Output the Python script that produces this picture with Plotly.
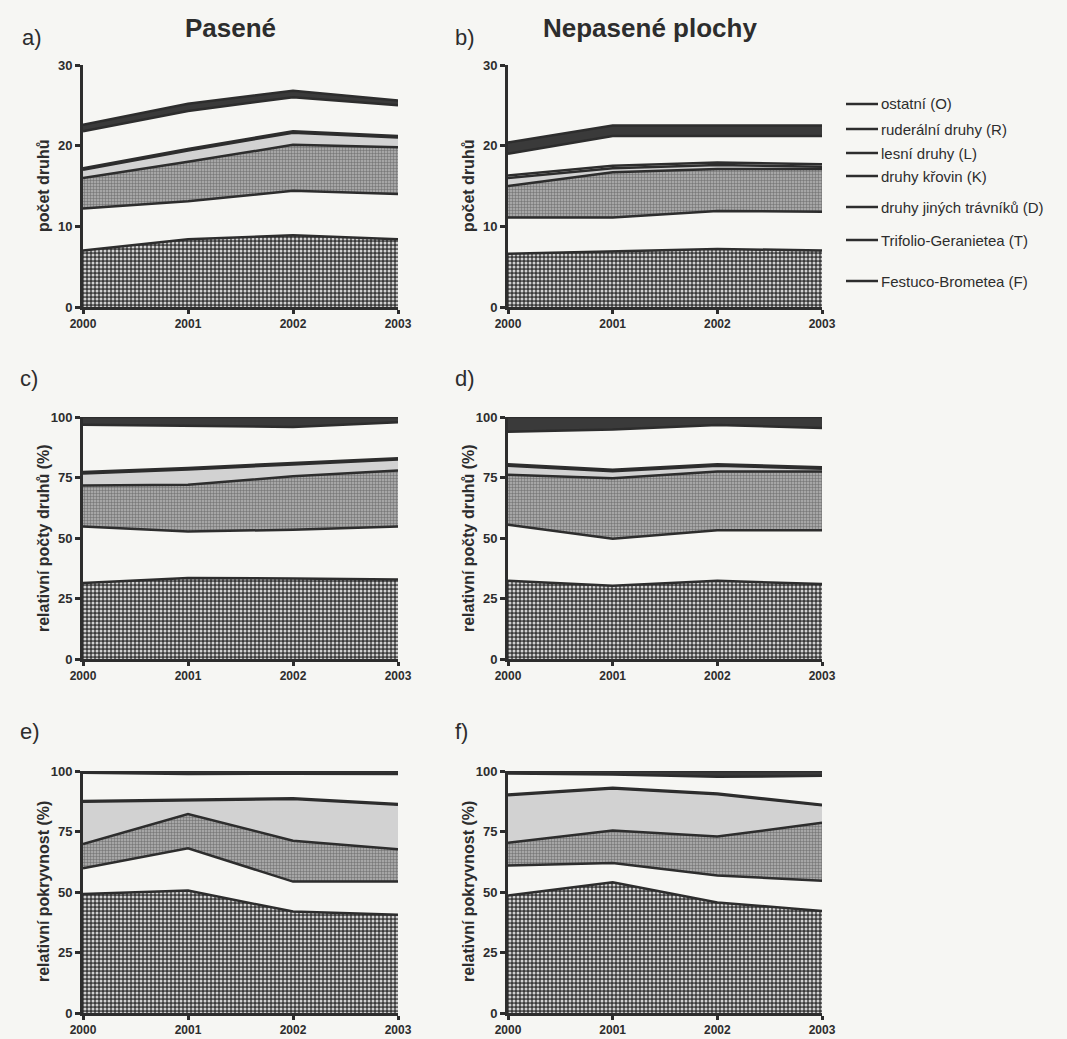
import plotly.graph_objects as go

years = [2000, 2001, 2002, 2003]

series_names = ["Festuco-Brometea (F)", "Trifolio-Geranietea (T)", "druhy jiných trávníků (D)",
                "druhy křovin (K)", "lesní druhy (L)", "ruderální druhy (R)", "ostatní (O)"]

# layer values (stacked, bottom F -> top O)
# a) grazed, species counts
a_F = [7.0, 8.4, 8.9, 8.4]
a_T = [5.2, 4.7, 5.5, 5.6]
a_D = [3.8, 4.9, 5.7, 5.8]
a_K = [1.0, 1.4, 1.5, 1.2]
a_L = [0.2, 0.2, 0.2, 0.2]
a_R = [4.6, 4.7, 4.2, 3.8]
a_O = [0.8, 0.9, 0.8, 0.6]
# b) ungrazed, species counts
b_F = [6.6, 6.9, 7.2, 7.0]
b_T = [4.5, 4.2, 4.7, 4.8]
b_D = [3.9, 5.6, 5.2, 5.3]
b_K = [1.0, 0.5, 0.5, 0.3]
b_L = [0.3, 0.3, 0.3, 0.3]
b_R = [2.7, 3.7, 3.3, 3.5]
b_O = [1.4, 1.3, 1.3, 1.3]
# c) grazed, relative species counts (%)
c_F = [31.4, 33.5, 33.3, 32.9]
c_T = [23.4, 19.2, 20.1, 21.9]
c_D = [16.9, 19.3, 22.1, 23.1]
c_K = [5.0, 6.3, 4.9, 4.5]
c_L = [0.6, 0.6, 0.6, 0.6]
c_R = [19.5, 17.5, 14.9, 14.8]
c_O = [3.2, 3.6, 4.1, 2.2]
# d) ungrazed, relative species counts (%)
d_F = [32.3, 30.3, 32.3, 31.0]
d_T = [23.2, 19.4, 20.9, 22.2]
d_D = [20.6, 25.0, 24.3, 24.3]
d_K = [3.8, 2.9, 2.4, 1.1]
d_L = [0.6, 0.6, 0.6, 0.6]
d_R = [13.4, 16.6, 16.2, 16.3]
d_O = [6.1, 5.2, 3.3, 4.5]
# e) grazed, relative cover (%)
e_F = [49.2, 50.6, 41.9, 40.6]
e_T = [10.6, 17.5, 12.4, 13.7]
e_D = [10.0, 14.1, 16.9, 13.4]
e_K = [17.5, 5.5, 17.2, 18.4]
e_L = [0.3, 0.3, 0.3, 0.3]
e_R = [11.7, 10.8, 10.2, 12.4]
e_O = [0.7, 1.2, 1.1, 1.2]
# f) ungrazed, relative cover (%)
f_F = [48.5, 54.0, 45.7, 42.2]
f_T = [12.4, 8.0, 11.1, 12.5]
f_D = [9.4, 13.4, 16.1, 23.9]
f_K = [19.7, 17.4, 17.5, 7.2]
f_L = [0.3, 0.3, 0.3, 0.3]
f_R = [8.7, 5.5, 6.9, 11.9]
f_O = [1.0, 1.4, 2.4, 2.0]

ylabels = ["počet druhů", "relativní počty druhů (%)", "relativní pokryvnost (%)"]
col_titles = ["Pasené", "Nepasené plochy"]
panel_letters = ["a)", "b)", "c)", "d)", "e)", "f)"]
legend_labels = ["ostatní (O)", "ruderální druhy (R)", "lesní druhy (L)", "druhy křovin (K)",
                 "druhy jiných trávníků (D)", "Trifolio-Geranietea (T)", "Festuco-Brometea (F)"]

panel_data = [
    [a_F, a_T, a_D, a_K, a_L, a_R, a_O],
    [b_F, b_T, b_D, b_K, b_L, b_R, b_O],
    [c_F, c_T, c_D, c_K, c_L, c_R, c_O],
    [d_F, d_T, d_D, d_K, d_L, d_R, d_O],
    [e_F, e_T, e_D, e_K, e_L, e_R, e_O],
    [f_F, f_T, f_D, f_K, f_L, f_R, f_O],
]

W, H = 1067, 1039
BG = "#f6f6f3"
INK = "#2d2d2d"
FONT = "Liberation Sans, Arial, sans-serif"

def px(x):
    return x / W

def py(y):
    return 1 - y / H

col_x = [(83, 398), (508, 822)]
row_y = [(65, 307), (417, 659), (771, 1013)]
letter_pos = [(20, 38), (453, 38), (18, 378), (453, 378), (18, 731), (453, 731)]
yranges = [[0, 30], [0, 100], [0, 100]]
yticks = [[0, 10, 20, 30], [0, 25, 50, 75, 100], [0, 25, 50, 75, 100]]

layer_styles = [
    dict(fill="#4a4a4a", pattern=dict(shape=".", size=4, solidity=0.45, bgcolor="#3a3a3a", fgcolor="#d0d0d0", fillmode="replace")),
    dict(fill=BG, pattern=None),
    dict(fill="#9a9a9a", pattern=dict(shape="+", size=3, solidity=0.3, bgcolor="#a6a6a6", fgcolor="#6a6a6a", fillmode="replace")),
    dict(fill="#d2d2d2", pattern=None),
    dict(fill=BG, pattern=None),
    dict(fill=BG, pattern=None),
    dict(fill="#3a3a3a", pattern=None),
]

fig = go.Figure()
annotations = []
shapes = []
layout_axes = {}

for i, data in enumerate(panel_data):
    row, col = divmod(i, 2)
    ax = "" if i == 0 else str(i + 1)
    xa, ya = "x" + ax, "y" + ax
    for k, vals in enumerate(data):
        st = layer_styles[k]
        kw = dict(x=years, y=vals, mode="lines", stackgroup="g%d" % i,
                  line=dict(color=INK, width=2.5, shape="linear"),
                  fillcolor=st["fill"], xaxis=xa, yaxis=ya,
                  name=series_names[k], showlegend=False, hoverinfo="skip")
        if st["pattern"]:
            kw["fillpattern"] = st["pattern"]
        fig.add_trace(go.Scatter(**kw))
    x0, x1 = col_x[col]
    y0, y1 = row_y[row]
    layout_axes["xaxis" + ax] = dict(
        domain=[px(x0), px(x1)], range=[2000, 2003], anchor=ya, automargin=False,
        tickvals=years, ticktext=[str(y) for y in years],
        showline=True, linecolor=INK, linewidth=3, ticks="outside", ticklen=4,
        tickwidth=2.5, tickcolor=INK, showgrid=False, zeroline=False,
        tickfont=dict(family=FONT, size=12, color=INK, weight="bold"), layer="above traces")
    layout_axes["yaxis" + ax] = dict(
        domain=[py(y1), py(y0)], range=yranges[row], anchor=xa, automargin=False,
        tickvals=yticks[row], showline=True, linecolor=INK, linewidth=3,
        ticks="outside", ticklen=5, tickwidth=2.5, tickcolor=INK, showgrid=False,
        zeroline=False, tickfont=dict(family=FONT, size=13, color=INK, weight="bold"),
        layer="above traces")
    # y axis title
    annotations.append(dict(x=px(x0 - 40), y=py((y0 + y1) / 2), xref="paper", yref="paper",
                            text=ylabels[row], textangle=-90, showarrow=False,
                            xanchor="center", yanchor="middle",
                            font=dict(family=FONT, size=16, color=INK, weight="bold")))
    # panel letter
    lx, ly = letter_pos[i]
    annotations.append(dict(x=px(lx), y=py(ly), xref="paper", yref="paper",
                            text=panel_letters[i], showarrow=False, xanchor="left", yanchor="middle",
                            font=dict(family=FONT, size=22, color=INK)))

for c, t in enumerate(col_titles):
    cx = [230, 650][c]
    annotations.append(dict(x=px(cx), y=py(28), xref="paper", yref="paper", text=t,
                            showarrow=False, xanchor="center", yanchor="middle",
                            font=dict(family=FONT, size=26, color=INK, weight="bold")))

legend_y = [104, 129, 153, 176, 207, 240, 281]
for lbl, ly in zip(legend_labels, legend_y):
    shapes.append(dict(type="line", xref="paper", yref="paper", x0=px(846), x1=px(878),
                       y0=py(ly), y1=py(ly), line=dict(color=INK, width=2.5)))
    annotations.append(dict(x=px(879), y=py(ly), xref="paper", yref="paper", text=lbl,
                            showarrow=False, xanchor="left", yanchor="middle",
                            font=dict(family=FONT, size=15, color=INK)))

fig.update_layout(width=W, height=H, margin=dict(l=0, r=0, t=0, b=0),
                  paper_bgcolor=BG, plot_bgcolor=BG, annotations=annotations,
                  shapes=shapes, **layout_axes)

fig.write_html("out.html")
